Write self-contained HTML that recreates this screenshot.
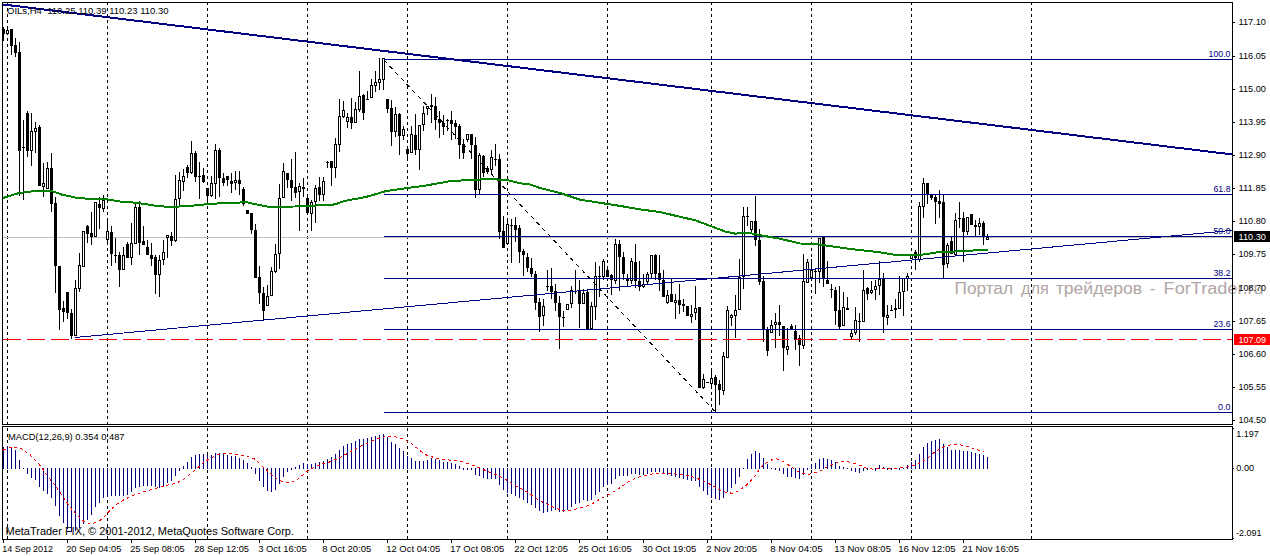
<!DOCTYPE html><html><head><meta charset="utf-8"><title>OILs H4</title>
<style>html,body{margin:0;padding:0;background:#fff}body{width:1270px;height:556px;overflow:hidden}svg{display:block}text{font-family:"Liberation Sans",sans-serif}</style></head><body>
<svg width="1270" height="556" viewBox="0 0 1270 556">
<rect x="0" y="0" width="1270" height="556" fill="#ffffff"/>
<defs><clipPath id="cm"><rect x="3" y="3" width="1229" height="421"/></clipPath><clipPath id="cs"><rect x="3" y="427" width="1229" height="112"/></clipPath></defs>
<text x="954.5" y="294.2" font-size="16.2" fill="#b0a5a3" textLength="58.5" lengthAdjust="spacingAndGlyphs">Портал</text>
<text x="1021" y="294.2" font-size="16.2" fill="#b0a5a3" textLength="27.7" lengthAdjust="spacingAndGlyphs">для</text>
<text x="1055.8" y="294.2" font-size="16.2" fill="#b0a5a3" textLength="86.2" lengthAdjust="spacingAndGlyphs">трейдеров</text>
<text x="1150" y="294.2" font-size="16.2" fill="#b0a5a3" textLength="5.2" lengthAdjust="spacingAndGlyphs">-</text>
<text x="1163.6" y="294.2" font-size="16.2" fill="#b0a5a3" textLength="100" lengthAdjust="spacingAndGlyphs">ForTrader.ru</text>
<g shape-rendering="crispEdges">
<line x1="7.5" y1="2" x2="7.5" y2="539" stroke="#000" stroke-width="1" stroke-dasharray="3 3"/>
<line x1="107.5" y1="2" x2="107.5" y2="539" stroke="#000" stroke-width="1" stroke-dasharray="3 3"/>
<line x1="207.5" y1="2" x2="207.5" y2="539" stroke="#000" stroke-width="1" stroke-dasharray="3 3"/>
<line x1="307.5" y1="2" x2="307.5" y2="539" stroke="#000" stroke-width="1" stroke-dasharray="3 3"/>
<line x1="407.5" y1="2" x2="407.5" y2="539" stroke="#000" stroke-width="1" stroke-dasharray="3 3"/>
<line x1="507.5" y1="2" x2="507.5" y2="539" stroke="#000" stroke-width="1" stroke-dasharray="3 3"/>
<line x1="607.5" y1="2" x2="607.5" y2="539" stroke="#000" stroke-width="1" stroke-dasharray="3 3"/>
<line x1="711.5" y1="2" x2="711.5" y2="539" stroke="#000" stroke-width="1" stroke-dasharray="3 3"/>
<line x1="811.5" y1="2" x2="811.5" y2="539" stroke="#000" stroke-width="1" stroke-dasharray="3 3"/>
<line x1="911.5" y1="2" x2="911.5" y2="539" stroke="#000" stroke-width="1" stroke-dasharray="3 3"/>
<line x1="1031.5" y1="2" x2="1031.5" y2="539" stroke="#000" stroke-width="1" stroke-dasharray="3 3"/>
<rect x="3" y="237" width="1229" height="1" fill="#c0c0c0" />
</g>
<g shape-rendering="crispEdges" clip-path="url(#cm)">
<rect x="3" y="27" width="1" height="14" fill="#000"/>
<rect x="2" y="29" width="3" height="5" fill="#000"/>
<rect x="7" y="27" width="1" height="8" fill="#000"/>
<rect x="6" y="30" width="3" height="4" fill="#000"/>
<rect x="7" y="31" width="1" height="2" fill="#fff"/>
<rect x="11" y="29" width="1" height="26" fill="#000"/>
<rect x="10" y="29" width="3" height="17" fill="#000"/>
<rect x="15" y="38" width="1" height="19" fill="#000"/>
<rect x="14" y="45" width="3" height="8" fill="#000"/>
<rect x="19" y="42" width="1" height="154" fill="#000"/>
<rect x="18" y="52" width="3" height="99" fill="#000"/>
<rect x="23" y="120" width="1" height="80" fill="#000"/>
<rect x="22" y="147" width="3" height="1" fill="#000"/>
<rect x="27" y="111" width="1" height="46" fill="#000"/>
<rect x="26" y="113" width="3" height="38" fill="#000"/>
<rect x="31" y="113" width="1" height="53" fill="#000"/>
<rect x="30" y="131" width="3" height="20" fill="#000"/>
<rect x="31" y="132" width="1" height="18" fill="#fff"/>
<rect x="35" y="122" width="1" height="31" fill="#000"/>
<rect x="34" y="128" width="3" height="4" fill="#000"/>
<rect x="35" y="129" width="1" height="2" fill="#fff"/>
<rect x="39" y="125" width="1" height="61" fill="#000"/>
<rect x="38" y="127" width="3" height="59" fill="#000"/>
<rect x="43" y="163" width="1" height="34" fill="#000"/>
<rect x="42" y="183" width="3" height="4" fill="#000"/>
<rect x="43" y="184" width="1" height="2" fill="#fff"/>
<rect x="47" y="162" width="1" height="27" fill="#000"/>
<rect x="46" y="168" width="3" height="21" fill="#000"/>
<rect x="47" y="169" width="1" height="19" fill="#fff"/>
<rect x="51" y="153" width="1" height="59" fill="#000"/>
<rect x="50" y="168" width="3" height="36" fill="#000"/>
<rect x="55" y="197" width="1" height="96" fill="#000"/>
<rect x="54" y="203" width="3" height="63" fill="#000"/>
<rect x="59" y="266" width="1" height="64" fill="#000"/>
<rect x="58" y="266" width="3" height="44" fill="#000"/>
<rect x="63" y="301" width="1" height="21" fill="#000"/>
<rect x="62" y="308" width="3" height="4" fill="#000"/>
<rect x="67" y="292" width="1" height="27" fill="#000"/>
<rect x="66" y="292" width="3" height="21" fill="#000"/>
<rect x="71" y="309" width="1" height="30" fill="#000"/>
<rect x="70" y="313" width="3" height="23" fill="#000"/>
<rect x="75" y="280" width="1" height="56" fill="#000"/>
<rect x="74" y="288" width="3" height="48" fill="#000"/>
<rect x="75" y="289" width="1" height="46" fill="#fff"/>
<rect x="79" y="253" width="1" height="39" fill="#000"/>
<rect x="78" y="265" width="3" height="24" fill="#000"/>
<rect x="79" y="266" width="1" height="22" fill="#fff"/>
<rect x="83" y="231" width="1" height="36" fill="#000"/>
<rect x="82" y="231" width="3" height="36" fill="#000"/>
<rect x="83" y="232" width="1" height="34" fill="#fff"/>
<rect x="87" y="225" width="1" height="18" fill="#000"/>
<rect x="86" y="226" width="3" height="8" fill="#000"/>
<rect x="91" y="212" width="1" height="33" fill="#000"/>
<rect x="90" y="233" width="3" height="4" fill="#000"/>
<rect x="95" y="202" width="1" height="35" fill="#000"/>
<rect x="94" y="202" width="3" height="35" fill="#000"/>
<rect x="95" y="203" width="1" height="33" fill="#fff"/>
<rect x="99" y="197" width="1" height="32" fill="#000"/>
<rect x="98" y="204" width="3" height="4" fill="#000"/>
<rect x="103" y="195" width="1" height="17" fill="#000"/>
<rect x="102" y="200" width="3" height="9" fill="#000"/>
<rect x="103" y="201" width="1" height="7" fill="#fff"/>
<rect x="107" y="219" width="1" height="26" fill="#000"/>
<rect x="106" y="231" width="3" height="9" fill="#000"/>
<rect x="107" y="232" width="1" height="7" fill="#fff"/>
<rect x="111" y="226" width="1" height="40" fill="#000"/>
<rect x="110" y="232" width="3" height="22" fill="#000"/>
<rect x="115" y="238" width="1" height="25" fill="#000"/>
<rect x="114" y="255" width="3" height="1" fill="#000"/>
<rect x="119" y="252" width="1" height="35" fill="#000"/>
<rect x="118" y="255" width="3" height="15" fill="#000"/>
<rect x="123" y="247" width="1" height="23" fill="#000"/>
<rect x="122" y="255" width="3" height="15" fill="#000"/>
<rect x="123" y="256" width="1" height="13" fill="#fff"/>
<rect x="127" y="242" width="1" height="16" fill="#000"/>
<rect x="126" y="244" width="3" height="14" fill="#000"/>
<rect x="131" y="223" width="1" height="42" fill="#000"/>
<rect x="130" y="243" width="3" height="15" fill="#000"/>
<rect x="131" y="244" width="1" height="13" fill="#fff"/>
<rect x="135" y="204" width="1" height="40" fill="#000"/>
<rect x="134" y="207" width="3" height="37" fill="#000"/>
<rect x="135" y="208" width="1" height="35" fill="#fff"/>
<rect x="139" y="201" width="1" height="54" fill="#000"/>
<rect x="138" y="207" width="3" height="36" fill="#000"/>
<rect x="143" y="226" width="1" height="19" fill="#000"/>
<rect x="142" y="241" width="3" height="4" fill="#000"/>
<rect x="147" y="240" width="1" height="15" fill="#000"/>
<rect x="146" y="247" width="3" height="8" fill="#000"/>
<rect x="151" y="243" width="1" height="23" fill="#000"/>
<rect x="150" y="255" width="3" height="4" fill="#000"/>
<rect x="155" y="255" width="1" height="39" fill="#000"/>
<rect x="154" y="257" width="3" height="18" fill="#000"/>
<rect x="159" y="255" width="1" height="42" fill="#000"/>
<rect x="158" y="260" width="3" height="15" fill="#000"/>
<rect x="159" y="261" width="1" height="13" fill="#fff"/>
<rect x="163" y="240" width="1" height="25" fill="#000"/>
<rect x="162" y="252" width="3" height="8" fill="#000"/>
<rect x="163" y="253" width="1" height="6" fill="#fff"/>
<rect x="167" y="235" width="1" height="23" fill="#000"/>
<rect x="166" y="235" width="3" height="3" fill="#000"/>
<rect x="167" y="236" width="1" height="1" fill="#fff"/>
<rect x="171" y="232" width="1" height="14" fill="#000"/>
<rect x="170" y="236" width="3" height="5" fill="#000"/>
<rect x="175" y="175" width="1" height="67" fill="#000"/>
<rect x="174" y="199" width="3" height="42" fill="#000"/>
<rect x="175" y="200" width="1" height="40" fill="#fff"/>
<rect x="179" y="172" width="1" height="34" fill="#000"/>
<rect x="178" y="180" width="3" height="19" fill="#000"/>
<rect x="179" y="181" width="1" height="17" fill="#fff"/>
<rect x="183" y="169" width="1" height="22" fill="#000"/>
<rect x="182" y="176" width="3" height="6" fill="#000"/>
<rect x="183" y="177" width="1" height="4" fill="#fff"/>
<rect x="187" y="165" width="1" height="13" fill="#000"/>
<rect x="186" y="167" width="3" height="6" fill="#000"/>
<rect x="191" y="141" width="1" height="33" fill="#000"/>
<rect x="190" y="153" width="3" height="20" fill="#000"/>
<rect x="191" y="154" width="1" height="18" fill="#fff"/>
<rect x="195" y="151" width="1" height="31" fill="#000"/>
<rect x="194" y="153" width="3" height="24" fill="#000"/>
<rect x="199" y="162" width="1" height="37" fill="#000"/>
<rect x="198" y="176" width="3" height="1" fill="#000"/>
<rect x="203" y="168" width="1" height="15" fill="#000"/>
<rect x="202" y="175" width="3" height="7" fill="#000"/>
<rect x="207" y="188" width="1" height="15" fill="#000"/>
<rect x="206" y="188" width="3" height="8" fill="#000"/>
<rect x="211" y="176" width="1" height="21" fill="#000"/>
<rect x="210" y="183" width="3" height="13" fill="#000"/>
<rect x="211" y="184" width="1" height="11" fill="#fff"/>
<rect x="215" y="144" width="1" height="55" fill="#000"/>
<rect x="214" y="150" width="3" height="34" fill="#000"/>
<rect x="215" y="151" width="1" height="32" fill="#fff"/>
<rect x="219" y="148" width="1" height="49" fill="#000"/>
<rect x="218" y="150" width="3" height="28" fill="#000"/>
<rect x="223" y="173" width="1" height="13" fill="#000"/>
<rect x="222" y="178" width="3" height="5" fill="#000"/>
<rect x="227" y="176" width="1" height="10" fill="#000"/>
<rect x="226" y="176" width="3" height="4" fill="#000"/>
<rect x="231" y="173" width="1" height="20" fill="#000"/>
<rect x="230" y="181" width="3" height="3" fill="#000"/>
<rect x="235" y="171" width="1" height="19" fill="#000"/>
<rect x="234" y="180" width="3" height="3" fill="#000"/>
<rect x="235" y="181" width="1" height="1" fill="#fff"/>
<rect x="239" y="171" width="1" height="24" fill="#000"/>
<rect x="238" y="180" width="3" height="4" fill="#000"/>
<rect x="243" y="187" width="1" height="19" fill="#000"/>
<rect x="242" y="189" width="3" height="15" fill="#000"/>
<rect x="247" y="210" width="1" height="4" fill="#000"/>
<rect x="246" y="210" width="3" height="4" fill="#000"/>
<rect x="251" y="213" width="1" height="21" fill="#000"/>
<rect x="250" y="213" width="3" height="17" fill="#000"/>
<rect x="255" y="224" width="1" height="54" fill="#000"/>
<rect x="254" y="230" width="3" height="48" fill="#000"/>
<rect x="259" y="266" width="1" height="38" fill="#000"/>
<rect x="258" y="277" width="3" height="16" fill="#000"/>
<rect x="263" y="287" width="1" height="34" fill="#000"/>
<rect x="262" y="293" width="3" height="18" fill="#000"/>
<rect x="267" y="285" width="1" height="21" fill="#000"/>
<rect x="266" y="296" width="3" height="10" fill="#000"/>
<rect x="267" y="297" width="1" height="8" fill="#fff"/>
<rect x="271" y="267" width="1" height="29" fill="#000"/>
<rect x="270" y="271" width="3" height="25" fill="#000"/>
<rect x="271" y="272" width="1" height="23" fill="#fff"/>
<rect x="275" y="244" width="1" height="29" fill="#000"/>
<rect x="274" y="254" width="3" height="18" fill="#000"/>
<rect x="275" y="255" width="1" height="16" fill="#fff"/>
<rect x="279" y="184" width="1" height="85" fill="#000"/>
<rect x="278" y="198" width="3" height="56" fill="#000"/>
<rect x="279" y="199" width="1" height="54" fill="#fff"/>
<rect x="283" y="163" width="1" height="35" fill="#000"/>
<rect x="282" y="171" width="3" height="27" fill="#000"/>
<rect x="283" y="172" width="1" height="25" fill="#fff"/>
<rect x="287" y="173" width="1" height="15" fill="#000"/>
<rect x="286" y="173" width="3" height="7" fill="#000"/>
<rect x="291" y="159" width="1" height="42" fill="#000"/>
<rect x="290" y="180" width="3" height="8" fill="#000"/>
<rect x="295" y="152" width="1" height="46" fill="#000"/>
<rect x="294" y="187" width="3" height="6" fill="#000"/>
<rect x="299" y="183" width="1" height="48" fill="#000"/>
<rect x="298" y="186" width="3" height="6" fill="#000"/>
<rect x="299" y="187" width="1" height="4" fill="#fff"/>
<rect x="303" y="178" width="1" height="19" fill="#000"/>
<rect x="302" y="187" width="3" height="2" fill="#000"/>
<rect x="307" y="194" width="1" height="21" fill="#000"/>
<rect x="306" y="198" width="3" height="15" fill="#000"/>
<rect x="311" y="200" width="1" height="31" fill="#000"/>
<rect x="310" y="202" width="3" height="12" fill="#000"/>
<rect x="311" y="203" width="1" height="10" fill="#fff"/>
<rect x="315" y="185" width="1" height="38" fill="#000"/>
<rect x="314" y="188" width="3" height="14" fill="#000"/>
<rect x="315" y="189" width="1" height="12" fill="#fff"/>
<rect x="319" y="177" width="1" height="24" fill="#000"/>
<rect x="318" y="187" width="3" height="8" fill="#000"/>
<rect x="323" y="177" width="1" height="24" fill="#000"/>
<rect x="322" y="181" width="3" height="14" fill="#000"/>
<rect x="323" y="182" width="1" height="12" fill="#fff"/>
<rect x="327" y="161" width="1" height="7" fill="#000"/>
<rect x="326" y="162" width="3" height="1" fill="#000"/>
<rect x="331" y="161" width="1" height="25" fill="#000"/>
<rect x="330" y="161" width="3" height="7" fill="#000"/>
<rect x="335" y="138" width="1" height="40" fill="#000"/>
<rect x="334" y="144" width="3" height="24" fill="#000"/>
<rect x="335" y="145" width="1" height="22" fill="#fff"/>
<rect x="339" y="99" width="1" height="53" fill="#000"/>
<rect x="338" y="116" width="3" height="29" fill="#000"/>
<rect x="339" y="117" width="1" height="27" fill="#fff"/>
<rect x="343" y="101" width="1" height="17" fill="#000"/>
<rect x="342" y="110" width="3" height="7" fill="#000"/>
<rect x="343" y="111" width="1" height="5" fill="#fff"/>
<rect x="347" y="113" width="1" height="15" fill="#000"/>
<rect x="346" y="117" width="3" height="5" fill="#000"/>
<rect x="347" y="118" width="1" height="3" fill="#fff"/>
<rect x="351" y="98" width="1" height="31" fill="#000"/>
<rect x="350" y="117" width="3" height="6" fill="#000"/>
<rect x="355" y="102" width="1" height="21" fill="#000"/>
<rect x="354" y="109" width="3" height="14" fill="#000"/>
<rect x="355" y="110" width="1" height="12" fill="#fff"/>
<rect x="359" y="71" width="1" height="41" fill="#000"/>
<rect x="358" y="96" width="3" height="14" fill="#000"/>
<rect x="359" y="97" width="1" height="12" fill="#fff"/>
<rect x="363" y="94" width="1" height="26" fill="#000"/>
<rect x="362" y="95" width="3" height="18" fill="#000"/>
<rect x="367" y="91" width="1" height="9" fill="#000"/>
<rect x="366" y="99" width="3" height="1" fill="#000"/>
<rect x="371" y="79" width="1" height="19" fill="#000"/>
<rect x="370" y="85" width="3" height="13" fill="#000"/>
<rect x="371" y="86" width="1" height="11" fill="#fff"/>
<rect x="375" y="71" width="1" height="21" fill="#000"/>
<rect x="374" y="82" width="3" height="4" fill="#000"/>
<rect x="375" y="83" width="1" height="2" fill="#fff"/>
<rect x="379" y="58" width="1" height="32" fill="#000"/>
<rect x="378" y="79" width="3" height="4" fill="#000"/>
<rect x="379" y="80" width="1" height="2" fill="#fff"/>
<rect x="383" y="58" width="1" height="32" fill="#000"/>
<rect x="382" y="58" width="3" height="22" fill="#000"/>
<rect x="383" y="59" width="1" height="20" fill="#fff"/>
<rect x="387" y="99" width="1" height="14" fill="#000"/>
<rect x="386" y="99" width="3" height="10" fill="#000"/>
<rect x="391" y="100" width="1" height="46" fill="#000"/>
<rect x="390" y="108" width="3" height="24" fill="#000"/>
<rect x="395" y="107" width="1" height="30" fill="#000"/>
<rect x="394" y="114" width="3" height="18" fill="#000"/>
<rect x="395" y="115" width="1" height="16" fill="#fff"/>
<rect x="399" y="113" width="1" height="42" fill="#000"/>
<rect x="398" y="114" width="3" height="22" fill="#000"/>
<rect x="403" y="126" width="1" height="14" fill="#000"/>
<rect x="402" y="129" width="3" height="7" fill="#000"/>
<rect x="403" y="130" width="1" height="5" fill="#fff"/>
<rect x="407" y="149" width="1" height="11" fill="#000"/>
<rect x="406" y="149" width="3" height="5" fill="#000"/>
<rect x="411" y="126" width="1" height="27" fill="#000"/>
<rect x="410" y="134" width="3" height="19" fill="#000"/>
<rect x="411" y="135" width="1" height="17" fill="#fff"/>
<rect x="415" y="114" width="1" height="41" fill="#000"/>
<rect x="414" y="135" width="3" height="15" fill="#000"/>
<rect x="419" y="125" width="1" height="45" fill="#000"/>
<rect x="418" y="125" width="3" height="25" fill="#000"/>
<rect x="419" y="126" width="1" height="23" fill="#fff"/>
<rect x="423" y="106" width="1" height="25" fill="#000"/>
<rect x="422" y="113" width="3" height="12" fill="#000"/>
<rect x="423" y="114" width="1" height="10" fill="#fff"/>
<rect x="427" y="106" width="1" height="9" fill="#000"/>
<rect x="426" y="106" width="3" height="3" fill="#000"/>
<rect x="427" y="107" width="1" height="1" fill="#fff"/>
<rect x="431" y="94" width="1" height="29" fill="#000"/>
<rect x="430" y="105" width="3" height="2" fill="#000"/>
<rect x="435" y="97" width="1" height="33" fill="#000"/>
<rect x="434" y="106" width="3" height="14" fill="#000"/>
<rect x="439" y="111" width="1" height="27" fill="#000"/>
<rect x="438" y="119" width="3" height="4" fill="#000"/>
<rect x="443" y="115" width="1" height="20" fill="#000"/>
<rect x="442" y="123" width="3" height="4" fill="#000"/>
<rect x="447" y="119" width="1" height="12" fill="#000"/>
<rect x="446" y="120" width="3" height="1" fill="#000"/>
<rect x="451" y="111" width="1" height="29" fill="#000"/>
<rect x="450" y="120" width="3" height="4" fill="#000"/>
<rect x="455" y="120" width="1" height="19" fill="#000"/>
<rect x="454" y="123" width="3" height="4" fill="#000"/>
<rect x="459" y="124" width="1" height="35" fill="#000"/>
<rect x="458" y="126" width="3" height="19" fill="#000"/>
<rect x="463" y="139" width="1" height="20" fill="#000"/>
<rect x="462" y="144" width="3" height="9" fill="#000"/>
<rect x="467" y="134" width="1" height="8" fill="#000"/>
<rect x="466" y="134" width="3" height="6" fill="#000"/>
<rect x="467" y="135" width="1" height="4" fill="#fff"/>
<rect x="471" y="134" width="1" height="25" fill="#000"/>
<rect x="470" y="134" width="3" height="11" fill="#000"/>
<rect x="475" y="137" width="1" height="61" fill="#000"/>
<rect x="474" y="145" width="3" height="45" fill="#000"/>
<rect x="479" y="153" width="1" height="42" fill="#000"/>
<rect x="478" y="155" width="3" height="35" fill="#000"/>
<rect x="479" y="156" width="1" height="33" fill="#fff"/>
<rect x="483" y="155" width="1" height="22" fill="#000"/>
<rect x="482" y="156" width="3" height="17" fill="#000"/>
<rect x="487" y="166" width="1" height="8" fill="#000"/>
<rect x="486" y="168" width="3" height="4" fill="#000"/>
<rect x="487" y="169" width="1" height="2" fill="#fff"/>
<rect x="491" y="150" width="1" height="25" fill="#000"/>
<rect x="490" y="157" width="3" height="13" fill="#000"/>
<rect x="491" y="158" width="1" height="11" fill="#fff"/>
<rect x="495" y="144" width="1" height="22" fill="#000"/>
<rect x="494" y="159" width="3" height="1" fill="#000"/>
<rect x="499" y="154" width="1" height="85" fill="#000"/>
<rect x="498" y="159" width="3" height="73" fill="#000"/>
<rect x="503" y="216" width="1" height="32" fill="#000"/>
<rect x="502" y="231" width="3" height="17" fill="#000"/>
<rect x="507" y="218" width="1" height="26" fill="#000"/>
<rect x="506" y="224" width="3" height="20" fill="#000"/>
<rect x="507" y="225" width="1" height="18" fill="#fff"/>
<rect x="511" y="219" width="1" height="44" fill="#000"/>
<rect x="510" y="225" width="3" height="1" fill="#000"/>
<rect x="515" y="217" width="1" height="25" fill="#000"/>
<rect x="514" y="225" width="3" height="5" fill="#000"/>
<rect x="519" y="225" width="1" height="38" fill="#000"/>
<rect x="518" y="228" width="3" height="24" fill="#000"/>
<rect x="523" y="249" width="1" height="27" fill="#000"/>
<rect x="522" y="251" width="3" height="4" fill="#000"/>
<rect x="527" y="253" width="1" height="19" fill="#000"/>
<rect x="526" y="257" width="3" height="11" fill="#000"/>
<rect x="531" y="258" width="1" height="19" fill="#000"/>
<rect x="530" y="268" width="3" height="6" fill="#000"/>
<rect x="535" y="271" width="1" height="39" fill="#000"/>
<rect x="534" y="274" width="3" height="29" fill="#000"/>
<rect x="539" y="298" width="1" height="34" fill="#000"/>
<rect x="538" y="302" width="3" height="15" fill="#000"/>
<rect x="543" y="299" width="1" height="27" fill="#000"/>
<rect x="542" y="306" width="3" height="10" fill="#000"/>
<rect x="543" y="307" width="1" height="8" fill="#fff"/>
<rect x="547" y="270" width="1" height="21" fill="#000"/>
<rect x="546" y="286" width="3" height="1" fill="#000"/>
<rect x="551" y="268" width="1" height="31" fill="#000"/>
<rect x="550" y="286" width="3" height="6" fill="#000"/>
<rect x="555" y="284" width="1" height="27" fill="#000"/>
<rect x="554" y="291" width="3" height="12" fill="#000"/>
<rect x="559" y="296" width="1" height="53" fill="#000"/>
<rect x="558" y="303" width="3" height="14" fill="#000"/>
<rect x="563" y="311" width="1" height="16" fill="#000"/>
<rect x="562" y="317" width="3" height="1" fill="#000"/>
<rect x="567" y="304" width="1" height="6" fill="#000"/>
<rect x="566" y="304" width="3" height="6" fill="#000"/>
<rect x="567" y="305" width="1" height="4" fill="#fff"/>
<rect x="571" y="286" width="1" height="22" fill="#000"/>
<rect x="570" y="290" width="3" height="14" fill="#000"/>
<rect x="571" y="291" width="1" height="12" fill="#fff"/>
<rect x="575" y="270" width="1" height="24" fill="#000"/>
<rect x="574" y="291" width="3" height="1" fill="#000"/>
<rect x="579" y="280" width="1" height="48" fill="#000"/>
<rect x="578" y="290" width="3" height="14" fill="#000"/>
<rect x="583" y="289" width="1" height="15" fill="#000"/>
<rect x="582" y="293" width="3" height="11" fill="#000"/>
<rect x="583" y="294" width="1" height="9" fill="#fff"/>
<rect x="587" y="289" width="1" height="40" fill="#000"/>
<rect x="586" y="292" width="3" height="37" fill="#000"/>
<rect x="591" y="302" width="1" height="27" fill="#000"/>
<rect x="590" y="306" width="3" height="23" fill="#000"/>
<rect x="591" y="307" width="1" height="21" fill="#fff"/>
<rect x="595" y="262" width="1" height="58" fill="#000"/>
<rect x="594" y="276" width="3" height="31" fill="#000"/>
<rect x="595" y="277" width="1" height="29" fill="#fff"/>
<rect x="599" y="266" width="1" height="31" fill="#000"/>
<rect x="598" y="276" width="3" height="1" fill="#000"/>
<rect x="603" y="259" width="1" height="21" fill="#000"/>
<rect x="602" y="261" width="3" height="16" fill="#000"/>
<rect x="603" y="262" width="1" height="14" fill="#fff"/>
<rect x="607" y="266" width="1" height="11" fill="#000"/>
<rect x="606" y="270" width="3" height="7" fill="#000"/>
<rect x="611" y="274" width="1" height="21" fill="#000"/>
<rect x="610" y="275" width="3" height="5" fill="#000"/>
<rect x="615" y="239" width="1" height="45" fill="#000"/>
<rect x="614" y="244" width="3" height="37" fill="#000"/>
<rect x="615" y="245" width="1" height="35" fill="#fff"/>
<rect x="619" y="240" width="1" height="51" fill="#000"/>
<rect x="618" y="244" width="3" height="13" fill="#000"/>
<rect x="623" y="252" width="1" height="28" fill="#000"/>
<rect x="622" y="257" width="3" height="17" fill="#000"/>
<rect x="627" y="274" width="1" height="12" fill="#000"/>
<rect x="626" y="278" width="3" height="3" fill="#000"/>
<rect x="631" y="258" width="1" height="26" fill="#000"/>
<rect x="630" y="261" width="3" height="20" fill="#000"/>
<rect x="631" y="262" width="1" height="18" fill="#fff"/>
<rect x="635" y="244" width="1" height="44" fill="#000"/>
<rect x="634" y="262" width="3" height="19" fill="#000"/>
<rect x="639" y="261" width="1" height="30" fill="#000"/>
<rect x="638" y="281" width="3" height="6" fill="#000"/>
<rect x="643" y="274" width="1" height="14" fill="#000"/>
<rect x="642" y="284" width="3" height="3" fill="#000"/>
<rect x="643" y="285" width="1" height="1" fill="#fff"/>
<rect x="647" y="272" width="1" height="13" fill="#000"/>
<rect x="646" y="274" width="3" height="8" fill="#000"/>
<rect x="647" y="275" width="1" height="6" fill="#fff"/>
<rect x="651" y="255" width="1" height="23" fill="#000"/>
<rect x="650" y="255" width="3" height="19" fill="#000"/>
<rect x="651" y="256" width="1" height="17" fill="#fff"/>
<rect x="655" y="254" width="1" height="26" fill="#000"/>
<rect x="654" y="255" width="3" height="19" fill="#000"/>
<rect x="659" y="255" width="1" height="36" fill="#000"/>
<rect x="658" y="273" width="3" height="7" fill="#000"/>
<rect x="663" y="270" width="1" height="27" fill="#000"/>
<rect x="662" y="280" width="3" height="17" fill="#000"/>
<rect x="667" y="290" width="1" height="14" fill="#000"/>
<rect x="666" y="295" width="3" height="8" fill="#000"/>
<rect x="667" y="296" width="1" height="6" fill="#fff"/>
<rect x="671" y="279" width="1" height="23" fill="#000"/>
<rect x="670" y="294" width="3" height="8" fill="#000"/>
<rect x="675" y="294" width="1" height="25" fill="#000"/>
<rect x="674" y="300" width="3" height="3" fill="#000"/>
<rect x="675" y="301" width="1" height="1" fill="#fff"/>
<rect x="679" y="284" width="1" height="30" fill="#000"/>
<rect x="678" y="300" width="3" height="5" fill="#000"/>
<rect x="683" y="299" width="1" height="13" fill="#000"/>
<rect x="682" y="304" width="3" height="2" fill="#000"/>
<rect x="687" y="306" width="1" height="10" fill="#000"/>
<rect x="686" y="306" width="3" height="10" fill="#000"/>
<rect x="691" y="305" width="1" height="18" fill="#000"/>
<rect x="690" y="314" width="3" height="3" fill="#000"/>
<rect x="691" y="315" width="1" height="1" fill="#fff"/>
<rect x="695" y="286" width="1" height="34" fill="#000"/>
<rect x="694" y="308" width="3" height="5" fill="#000"/>
<rect x="695" y="309" width="1" height="3" fill="#fff"/>
<rect x="699" y="307" width="1" height="81" fill="#000"/>
<rect x="698" y="307" width="3" height="81" fill="#000"/>
<rect x="703" y="374" width="1" height="15" fill="#000"/>
<rect x="702" y="379" width="3" height="9" fill="#000"/>
<rect x="703" y="380" width="1" height="7" fill="#fff"/>
<rect x="706" y="382" width="3" height="1" fill="#000"/>
<rect x="711" y="368" width="1" height="20" fill="#000"/>
<rect x="710" y="378" width="3" height="6" fill="#000"/>
<rect x="711" y="379" width="1" height="4" fill="#fff"/>
<rect x="715" y="375" width="1" height="37" fill="#000"/>
<rect x="714" y="377" width="3" height="8" fill="#000"/>
<rect x="719" y="380" width="1" height="25" fill="#000"/>
<rect x="718" y="384" width="3" height="6" fill="#000"/>
<rect x="723" y="352" width="1" height="43" fill="#000"/>
<rect x="722" y="356" width="3" height="35" fill="#000"/>
<rect x="723" y="357" width="1" height="33" fill="#fff"/>
<rect x="727" y="306" width="1" height="52" fill="#000"/>
<rect x="726" y="310" width="3" height="48" fill="#000"/>
<rect x="727" y="311" width="1" height="46" fill="#fff"/>
<rect x="731" y="314" width="1" height="12" fill="#000"/>
<rect x="730" y="315" width="3" height="3" fill="#000"/>
<rect x="731" y="316" width="1" height="1" fill="#fff"/>
<rect x="735" y="295" width="1" height="43" fill="#000"/>
<rect x="734" y="310" width="3" height="6" fill="#000"/>
<rect x="735" y="311" width="1" height="4" fill="#fff"/>
<rect x="739" y="259" width="1" height="51" fill="#000"/>
<rect x="738" y="277" width="3" height="33" fill="#000"/>
<rect x="739" y="278" width="1" height="31" fill="#fff"/>
<rect x="743" y="207" width="1" height="82" fill="#000"/>
<rect x="742" y="216" width="3" height="61" fill="#000"/>
<rect x="743" y="217" width="1" height="59" fill="#fff"/>
<rect x="747" y="207" width="1" height="19" fill="#000"/>
<rect x="746" y="216" width="3" height="1" fill="#000"/>
<rect x="751" y="221" width="1" height="13" fill="#000"/>
<rect x="750" y="221" width="3" height="9" fill="#000"/>
<rect x="751" y="222" width="1" height="7" fill="#fff"/>
<rect x="755" y="196" width="1" height="50" fill="#000"/>
<rect x="754" y="221" width="3" height="19" fill="#000"/>
<rect x="759" y="229" width="1" height="56" fill="#000"/>
<rect x="758" y="240" width="3" height="42" fill="#000"/>
<rect x="763" y="276" width="1" height="66" fill="#000"/>
<rect x="762" y="281" width="3" height="48" fill="#000"/>
<rect x="767" y="327" width="1" height="29" fill="#000"/>
<rect x="766" y="329" width="3" height="22" fill="#000"/>
<rect x="771" y="320" width="1" height="13" fill="#000"/>
<rect x="770" y="325" width="3" height="8" fill="#000"/>
<rect x="771" y="326" width="1" height="6" fill="#fff"/>
<rect x="775" y="313" width="1" height="35" fill="#000"/>
<rect x="774" y="322" width="3" height="3" fill="#000"/>
<rect x="775" y="323" width="1" height="1" fill="#fff"/>
<rect x="779" y="305" width="1" height="31" fill="#000"/>
<rect x="778" y="322" width="3" height="3" fill="#000"/>
<rect x="783" y="326" width="1" height="45" fill="#000"/>
<rect x="782" y="326" width="3" height="22" fill="#000"/>
<rect x="787" y="328" width="1" height="27" fill="#000"/>
<rect x="786" y="346" width="3" height="4" fill="#000"/>
<rect x="787" y="347" width="1" height="2" fill="#fff"/>
<rect x="791" y="324" width="1" height="6" fill="#000"/>
<rect x="790" y="326" width="3" height="4" fill="#000"/>
<rect x="795" y="325" width="1" height="25" fill="#000"/>
<rect x="794" y="331" width="3" height="9" fill="#000"/>
<rect x="799" y="335" width="1" height="31" fill="#000"/>
<rect x="798" y="338" width="3" height="7" fill="#000"/>
<rect x="803" y="254" width="1" height="95" fill="#000"/>
<rect x="802" y="281" width="3" height="65" fill="#000"/>
<rect x="803" y="282" width="1" height="63" fill="#fff"/>
<rect x="807" y="259" width="1" height="24" fill="#000"/>
<rect x="806" y="262" width="3" height="21" fill="#000"/>
<rect x="807" y="263" width="1" height="19" fill="#fff"/>
<rect x="811" y="259" width="1" height="19" fill="#000"/>
<rect x="810" y="270" width="3" height="8" fill="#000"/>
<rect x="811" y="271" width="1" height="6" fill="#fff"/>
<rect x="815" y="269" width="1" height="25" fill="#000"/>
<rect x="814" y="271" width="3" height="1" fill="#000"/>
<rect x="819" y="238" width="1" height="45" fill="#000"/>
<rect x="818" y="238" width="3" height="34" fill="#000"/>
<rect x="819" y="239" width="1" height="32" fill="#fff"/>
<rect x="823" y="236" width="1" height="51" fill="#000"/>
<rect x="822" y="236" width="3" height="43" fill="#000"/>
<rect x="827" y="261" width="1" height="23" fill="#000"/>
<rect x="826" y="280" width="3" height="4" fill="#000"/>
<rect x="831" y="284" width="1" height="14" fill="#000"/>
<rect x="830" y="289" width="3" height="1" fill="#000"/>
<rect x="835" y="287" width="1" height="38" fill="#000"/>
<rect x="834" y="290" width="3" height="21" fill="#000"/>
<rect x="839" y="286" width="1" height="43" fill="#000"/>
<rect x="838" y="310" width="3" height="17" fill="#000"/>
<rect x="843" y="292" width="1" height="34" fill="#000"/>
<rect x="842" y="307" width="3" height="19" fill="#000"/>
<rect x="843" y="308" width="1" height="17" fill="#fff"/>
<rect x="847" y="297" width="1" height="13" fill="#000"/>
<rect x="846" y="308" width="3" height="2" fill="#000"/>
<rect x="851" y="330" width="1" height="9" fill="#000"/>
<rect x="850" y="333" width="3" height="4" fill="#000"/>
<rect x="851" y="334" width="1" height="2" fill="#fff"/>
<rect x="855" y="307" width="1" height="28" fill="#000"/>
<rect x="854" y="320" width="3" height="13" fill="#000"/>
<rect x="855" y="321" width="1" height="11" fill="#fff"/>
<rect x="859" y="313" width="1" height="29" fill="#000"/>
<rect x="858" y="321" width="3" height="1" fill="#000"/>
<rect x="863" y="270" width="1" height="52" fill="#000"/>
<rect x="862" y="290" width="3" height="32" fill="#000"/>
<rect x="863" y="291" width="1" height="30" fill="#fff"/>
<rect x="867" y="287" width="1" height="13" fill="#000"/>
<rect x="866" y="288" width="3" height="6" fill="#000"/>
<rect x="871" y="281" width="1" height="13" fill="#000"/>
<rect x="870" y="290" width="3" height="3" fill="#000"/>
<rect x="871" y="291" width="1" height="1" fill="#fff"/>
<rect x="875" y="280" width="1" height="20" fill="#000"/>
<rect x="874" y="286" width="3" height="4" fill="#000"/>
<rect x="875" y="287" width="1" height="2" fill="#fff"/>
<rect x="879" y="261" width="1" height="34" fill="#000"/>
<rect x="878" y="279" width="3" height="7" fill="#000"/>
<rect x="879" y="280" width="1" height="5" fill="#fff"/>
<rect x="883" y="273" width="1" height="60" fill="#000"/>
<rect x="882" y="279" width="3" height="38" fill="#000"/>
<rect x="887" y="305" width="1" height="20" fill="#000"/>
<rect x="886" y="315" width="3" height="3" fill="#000"/>
<rect x="887" y="316" width="1" height="1" fill="#fff"/>
<rect x="891" y="305" width="1" height="6" fill="#000"/>
<rect x="890" y="310" width="3" height="1" fill="#000"/>
<rect x="895" y="299" width="1" height="19" fill="#000"/>
<rect x="894" y="308" width="3" height="2" fill="#000"/>
<rect x="899" y="276" width="1" height="33" fill="#000"/>
<rect x="898" y="292" width="3" height="17" fill="#000"/>
<rect x="899" y="293" width="1" height="15" fill="#fff"/>
<rect x="903" y="278" width="1" height="38" fill="#000"/>
<rect x="902" y="278" width="3" height="14" fill="#000"/>
<rect x="903" y="279" width="1" height="12" fill="#fff"/>
<rect x="907" y="273" width="1" height="18" fill="#000"/>
<rect x="906" y="276" width="3" height="3" fill="#000"/>
<rect x="907" y="277" width="1" height="1" fill="#fff"/>
<rect x="911" y="254" width="1" height="5" fill="#000"/>
<rect x="910" y="254" width="3" height="5" fill="#000"/>
<rect x="911" y="255" width="1" height="3" fill="#fff"/>
<rect x="915" y="250" width="1" height="20" fill="#000"/>
<rect x="914" y="252" width="3" height="6" fill="#000"/>
<rect x="919" y="202" width="1" height="60" fill="#000"/>
<rect x="918" y="206" width="3" height="54" fill="#000"/>
<rect x="919" y="207" width="1" height="52" fill="#fff"/>
<rect x="923" y="178" width="1" height="40" fill="#000"/>
<rect x="922" y="183" width="3" height="24" fill="#000"/>
<rect x="923" y="184" width="1" height="22" fill="#fff"/>
<rect x="927" y="183" width="1" height="21" fill="#000"/>
<rect x="926" y="183" width="3" height="12" fill="#000"/>
<rect x="931" y="195" width="1" height="5" fill="#000"/>
<rect x="930" y="195" width="3" height="3" fill="#000"/>
<rect x="935" y="195" width="1" height="29" fill="#000"/>
<rect x="934" y="197" width="3" height="5" fill="#000"/>
<rect x="939" y="190" width="1" height="28" fill="#000"/>
<rect x="938" y="201" width="3" height="3" fill="#000"/>
<rect x="943" y="195" width="1" height="83" fill="#000"/>
<rect x="942" y="202" width="3" height="63" fill="#000"/>
<rect x="947" y="243" width="1" height="25" fill="#000"/>
<rect x="946" y="245" width="3" height="19" fill="#000"/>
<rect x="947" y="246" width="1" height="17" fill="#fff"/>
<rect x="951" y="237" width="1" height="17" fill="#000"/>
<rect x="950" y="241" width="3" height="13" fill="#000"/>
<rect x="955" y="213" width="1" height="43" fill="#000"/>
<rect x="954" y="220" width="3" height="35" fill="#000"/>
<rect x="955" y="221" width="1" height="33" fill="#fff"/>
<rect x="959" y="202" width="1" height="26" fill="#000"/>
<rect x="958" y="218" width="3" height="1" fill="#000"/>
<rect x="963" y="212" width="1" height="50" fill="#000"/>
<rect x="962" y="218" width="3" height="14" fill="#000"/>
<rect x="967" y="217" width="1" height="18" fill="#000"/>
<rect x="966" y="217" width="3" height="15" fill="#000"/>
<rect x="967" y="218" width="1" height="13" fill="#fff"/>
<rect x="971" y="214" width="1" height="11" fill="#000"/>
<rect x="970" y="214" width="3" height="11" fill="#000"/>
<rect x="975" y="220" width="1" height="17" fill="#000"/>
<rect x="974" y="225" width="3" height="2" fill="#000"/>
<rect x="979" y="218" width="1" height="17" fill="#000"/>
<rect x="978" y="223" width="3" height="4" fill="#000"/>
<rect x="979" y="224" width="1" height="2" fill="#fff"/>
<rect x="983" y="221" width="1" height="24" fill="#000"/>
<rect x="982" y="223" width="3" height="13" fill="#000"/>
<rect x="987" y="234" width="1" height="5" fill="#000"/>
<rect x="986" y="237" width="3" height="3" fill="#000"/>
<rect x="987" y="238" width="1" height="1" fill="#fff"/>
</g>
<g shape-rendering="crispEdges">
<rect x="384" y="59" width="848" height="1" fill="#000080" />
<rect x="384" y="194" width="848" height="1" fill="#000080" />
<rect x="384" y="236" width="848" height="1" fill="#000080" />
<rect x="384" y="278" width="848" height="1" fill="#000080" />
<rect x="384" y="329" width="848" height="1" fill="#000080" />
<rect x="384" y="412" width="848" height="1" fill="#000080" />
<line x1="3" y1="339.5" x2="1232" y2="339.5" stroke="#ff0000" stroke-width="1" stroke-dasharray="18 6"/>
</g>
<line x1="384" y1="60" x2="715.5" y2="412" stroke="#000" stroke-width="1" stroke-dasharray="4.12 4.12" clip-path="url(#cm)" shape-rendering="crispEdges"/>
<line x1="75" y1="337.5" x2="1232.5" y2="230.35" stroke="#000080" stroke-width="1" clip-path="url(#cm)" shape-rendering="crispEdges"/>
<line x1="2" y1="4.35" x2="1233" y2="154.53" stroke="#000080" stroke-width="2" clip-path="url(#cm)" shape-rendering="crispEdges"/>
<polyline points="3,198 19,193 35,191 51,190.7 63,195 70,196.1 75,197.6 90,199 99,199 107,199.4 120,201.5 127,202 138,203 155,205.6 170,207.1 188,205.9 200,205.1 207,204 227,203 240,202.5 247,202.3 255,204.2 268,206.7 295,206.5 325,205.1 335,204.4 345,200.8 365,197.2 380,192.9 385,191.3 400,189 425,185.7 450,181.2 475,179.6 495,179.2 510,180.6 520,183.3 530,184.4 540,188 560,193 580,199.7 600,202.8 620,205.9 640,209.4 660,212 680,216.8 695,220.2 710,225.8 725,231.5 735,233.6 750,233 760,235.2 780,238.7 800,243.5 815,243.9 835,246.8 850,249 860,250 880,252.3 895,254.9 915,254.9 920,255 930,253.5 940,251.8 955,251.5 970,250.6 988,250.1" fill="none" stroke="#008000" stroke-width="2" stroke-linejoin="round" clip-path="url(#cm)" shape-rendering="crispEdges"/>
<g shape-rendering="crispEdges" clip-path="url(#cs)">
<rect x="3" y="447" width="1" height="22" fill="#000080"/>
<rect x="7" y="446" width="1" height="23" fill="#000080"/>
<rect x="11" y="447" width="1" height="22" fill="#000080"/>
<rect x="15" y="450" width="1" height="19" fill="#000080"/>
<rect x="19" y="460" width="1" height="9" fill="#000080"/>
<rect x="23" y="468" width="1" height="1" fill="#000080"/>
<rect x="27" y="468" width="1" height="6" fill="#000080"/>
<rect x="31" y="468" width="1" height="10" fill="#000080"/>
<rect x="35" y="468" width="1" height="12" fill="#000080"/>
<rect x="39" y="468" width="1" height="19" fill="#000080"/>
<rect x="43" y="468" width="1" height="23" fill="#000080"/>
<rect x="47" y="468" width="1" height="26" fill="#000080"/>
<rect x="51" y="468" width="1" height="30" fill="#000080"/>
<rect x="55" y="468" width="1" height="38" fill="#000080"/>
<rect x="59" y="468" width="1" height="48" fill="#000080"/>
<rect x="63" y="468" width="1" height="55" fill="#000080"/>
<rect x="67" y="468" width="1" height="61" fill="#000080"/>
<rect x="71" y="468" width="1" height="64" fill="#000080"/>
<rect x="75" y="468" width="1" height="63" fill="#000080"/>
<rect x="79" y="468" width="1" height="60" fill="#000080"/>
<rect x="83" y="468" width="1" height="56" fill="#000080"/>
<rect x="87" y="468" width="1" height="52" fill="#000080"/>
<rect x="91" y="468" width="1" height="47" fill="#000080"/>
<rect x="95" y="468" width="1" height="39" fill="#000080"/>
<rect x="99" y="468" width="1" height="35" fill="#000080"/>
<rect x="103" y="468" width="1" height="30" fill="#000080"/>
<rect x="107" y="468" width="1" height="29" fill="#000080"/>
<rect x="111" y="468" width="1" height="28" fill="#000080"/>
<rect x="115" y="468" width="1" height="28" fill="#000080"/>
<rect x="119" y="468" width="1" height="28" fill="#000080"/>
<rect x="123" y="468" width="1" height="28" fill="#000080"/>
<rect x="127" y="468" width="1" height="27" fill="#000080"/>
<rect x="131" y="468" width="1" height="24" fill="#000080"/>
<rect x="135" y="468" width="1" height="20" fill="#000080"/>
<rect x="139" y="468" width="1" height="19" fill="#000080"/>
<rect x="143" y="468" width="1" height="18" fill="#000080"/>
<rect x="147" y="468" width="1" height="18" fill="#000080"/>
<rect x="151" y="468" width="1" height="18" fill="#000080"/>
<rect x="155" y="468" width="1" height="19" fill="#000080"/>
<rect x="159" y="468" width="1" height="20" fill="#000080"/>
<rect x="163" y="468" width="1" height="19" fill="#000080"/>
<rect x="167" y="468" width="1" height="15" fill="#000080"/>
<rect x="171" y="468" width="1" height="13" fill="#000080"/>
<rect x="175" y="468" width="1" height="8" fill="#000080"/>
<rect x="179" y="468" width="1" height="3" fill="#000080"/>
<rect x="183" y="466" width="1" height="3" fill="#000080"/>
<rect x="187" y="462" width="1" height="7" fill="#000080"/>
<rect x="191" y="457" width="1" height="12" fill="#000080"/>
<rect x="195" y="455" width="1" height="14" fill="#000080"/>
<rect x="199" y="454" width="1" height="15" fill="#000080"/>
<rect x="203" y="454" width="1" height="15" fill="#000080"/>
<rect x="207" y="455" width="1" height="14" fill="#000080"/>
<rect x="211" y="455" width="1" height="14" fill="#000080"/>
<rect x="215" y="453" width="1" height="16" fill="#000080"/>
<rect x="219" y="453" width="1" height="16" fill="#000080"/>
<rect x="223" y="454" width="1" height="15" fill="#000080"/>
<rect x="227" y="455" width="1" height="14" fill="#000080"/>
<rect x="231" y="456" width="1" height="13" fill="#000080"/>
<rect x="235" y="456" width="1" height="13" fill="#000080"/>
<rect x="239" y="458" width="1" height="11" fill="#000080"/>
<rect x="243" y="460" width="1" height="9" fill="#000080"/>
<rect x="247" y="463" width="1" height="6" fill="#000080"/>
<rect x="251" y="467" width="1" height="2" fill="#000080"/>
<rect x="255" y="468" width="1" height="6" fill="#000080"/>
<rect x="259" y="468" width="1" height="13" fill="#000080"/>
<rect x="263" y="468" width="1" height="19" fill="#000080"/>
<rect x="267" y="468" width="1" height="23" fill="#000080"/>
<rect x="271" y="468" width="1" height="24" fill="#000080"/>
<rect x="275" y="468" width="1" height="22" fill="#000080"/>
<rect x="279" y="468" width="1" height="16" fill="#000080"/>
<rect x="283" y="468" width="1" height="9" fill="#000080"/>
<rect x="287" y="468" width="1" height="4" fill="#000080"/>
<rect x="291" y="468" width="1" height="2" fill="#000080"/>
<rect x="295" y="467" width="1" height="2" fill="#000080"/>
<rect x="299" y="465" width="1" height="4" fill="#000080"/>
<rect x="303" y="463" width="1" height="6" fill="#000080"/>
<rect x="307" y="464" width="1" height="5" fill="#000080"/>
<rect x="311" y="464" width="1" height="5" fill="#000080"/>
<rect x="315" y="463" width="1" height="6" fill="#000080"/>
<rect x="319" y="462" width="1" height="7" fill="#000080"/>
<rect x="323" y="461" width="1" height="8" fill="#000080"/>
<rect x="327" y="459" width="1" height="10" fill="#000080"/>
<rect x="331" y="457" width="1" height="12" fill="#000080"/>
<rect x="335" y="454" width="1" height="15" fill="#000080"/>
<rect x="339" y="450" width="1" height="19" fill="#000080"/>
<rect x="343" y="446" width="1" height="23" fill="#000080"/>
<rect x="347" y="444" width="1" height="25" fill="#000080"/>
<rect x="351" y="443" width="1" height="26" fill="#000080"/>
<rect x="355" y="441" width="1" height="28" fill="#000080"/>
<rect x="359" y="439" width="1" height="30" fill="#000080"/>
<rect x="363" y="439" width="1" height="30" fill="#000080"/>
<rect x="367" y="438" width="1" height="31" fill="#000080"/>
<rect x="371" y="437" width="1" height="32" fill="#000080"/>
<rect x="375" y="436" width="1" height="33" fill="#000080"/>
<rect x="379" y="435" width="1" height="34" fill="#000080"/>
<rect x="383" y="434" width="1" height="35" fill="#000080"/>
<rect x="387" y="437" width="1" height="32" fill="#000080"/>
<rect x="391" y="442" width="1" height="27" fill="#000080"/>
<rect x="395" y="444" width="1" height="25" fill="#000080"/>
<rect x="399" y="448" width="1" height="21" fill="#000080"/>
<rect x="403" y="451" width="1" height="18" fill="#000080"/>
<rect x="407" y="456" width="1" height="13" fill="#000080"/>
<rect x="411" y="458" width="1" height="11" fill="#000080"/>
<rect x="415" y="461" width="1" height="8" fill="#000080"/>
<rect x="419" y="461" width="1" height="8" fill="#000080"/>
<rect x="423" y="461" width="1" height="8" fill="#000080"/>
<rect x="427" y="460" width="1" height="9" fill="#000080"/>
<rect x="431" y="458" width="1" height="11" fill="#000080"/>
<rect x="435" y="459" width="1" height="10" fill="#000080"/>
<rect x="439" y="460" width="1" height="9" fill="#000080"/>
<rect x="443" y="462" width="1" height="7" fill="#000080"/>
<rect x="447" y="462" width="1" height="7" fill="#000080"/>
<rect x="451" y="463" width="1" height="6" fill="#000080"/>
<rect x="455" y="464" width="1" height="5" fill="#000080"/>
<rect x="459" y="466" width="1" height="3" fill="#000080"/>
<rect x="463" y="468" width="1" height="2" fill="#000080"/>
<rect x="467" y="468" width="1" height="2" fill="#000080"/>
<rect x="471" y="468" width="1" height="2" fill="#000080"/>
<rect x="475" y="468" width="1" height="7" fill="#000080"/>
<rect x="479" y="468" width="1" height="8" fill="#000080"/>
<rect x="483" y="468" width="1" height="10" fill="#000080"/>
<rect x="487" y="468" width="1" height="11" fill="#000080"/>
<rect x="491" y="468" width="1" height="11" fill="#000080"/>
<rect x="495" y="468" width="1" height="11" fill="#000080"/>
<rect x="499" y="468" width="1" height="17" fill="#000080"/>
<rect x="503" y="468" width="1" height="22" fill="#000080"/>
<rect x="507" y="468" width="1" height="25" fill="#000080"/>
<rect x="511" y="468" width="1" height="26" fill="#000080"/>
<rect x="515" y="468" width="1" height="28" fill="#000080"/>
<rect x="519" y="468" width="1" height="30" fill="#000080"/>
<rect x="523" y="468" width="1" height="32" fill="#000080"/>
<rect x="527" y="468" width="1" height="35" fill="#000080"/>
<rect x="531" y="468" width="1" height="37" fill="#000080"/>
<rect x="535" y="468" width="1" height="40" fill="#000080"/>
<rect x="539" y="468" width="1" height="43" fill="#000080"/>
<rect x="543" y="468" width="1" height="45" fill="#000080"/>
<rect x="547" y="468" width="1" height="44" fill="#000080"/>
<rect x="551" y="468" width="1" height="43" fill="#000080"/>
<rect x="555" y="468" width="1" height="42" fill="#000080"/>
<rect x="559" y="468" width="1" height="44" fill="#000080"/>
<rect x="563" y="468" width="1" height="44" fill="#000080"/>
<rect x="567" y="468" width="1" height="42" fill="#000080"/>
<rect x="571" y="468" width="1" height="39" fill="#000080"/>
<rect x="575" y="468" width="1" height="36" fill="#000080"/>
<rect x="579" y="468" width="1" height="35" fill="#000080"/>
<rect x="583" y="468" width="1" height="32" fill="#000080"/>
<rect x="587" y="468" width="1" height="33" fill="#000080"/>
<rect x="591" y="468" width="1" height="32" fill="#000080"/>
<rect x="595" y="468" width="1" height="27" fill="#000080"/>
<rect x="599" y="468" width="1" height="24" fill="#000080"/>
<rect x="603" y="468" width="1" height="19" fill="#000080"/>
<rect x="607" y="468" width="1" height="17" fill="#000080"/>
<rect x="611" y="468" width="1" height="16" fill="#000080"/>
<rect x="615" y="468" width="1" height="11" fill="#000080"/>
<rect x="619" y="468" width="1" height="8" fill="#000080"/>
<rect x="623" y="468" width="1" height="8" fill="#000080"/>
<rect x="627" y="468" width="1" height="8" fill="#000080"/>
<rect x="631" y="468" width="1" height="6" fill="#000080"/>
<rect x="635" y="468" width="1" height="6" fill="#000080"/>
<rect x="639" y="468" width="1" height="7" fill="#000080"/>
<rect x="643" y="468" width="1" height="7" fill="#000080"/>
<rect x="647" y="468" width="1" height="6" fill="#000080"/>
<rect x="651" y="468" width="1" height="4" fill="#000080"/>
<rect x="655" y="468" width="1" height="4" fill="#000080"/>
<rect x="659" y="468" width="1" height="4" fill="#000080"/>
<rect x="663" y="468" width="1" height="5" fill="#000080"/>
<rect x="667" y="468" width="1" height="7" fill="#000080"/>
<rect x="671" y="468" width="1" height="8" fill="#000080"/>
<rect x="675" y="468" width="1" height="9" fill="#000080"/>
<rect x="679" y="468" width="1" height="10" fill="#000080"/>
<rect x="683" y="468" width="1" height="11" fill="#000080"/>
<rect x="687" y="468" width="1" height="12" fill="#000080"/>
<rect x="691" y="468" width="1" height="13" fill="#000080"/>
<rect x="695" y="468" width="1" height="13" fill="#000080"/>
<rect x="699" y="468" width="1" height="19" fill="#000080"/>
<rect x="703" y="468" width="1" height="23" fill="#000080"/>
<rect x="707" y="468" width="1" height="27" fill="#000080"/>
<rect x="711" y="468" width="1" height="30" fill="#000080"/>
<rect x="715" y="468" width="1" height="31" fill="#000080"/>
<rect x="719" y="468" width="1" height="32" fill="#000080"/>
<rect x="723" y="468" width="1" height="30" fill="#000080"/>
<rect x="727" y="468" width="1" height="24" fill="#000080"/>
<rect x="731" y="468" width="1" height="20" fill="#000080"/>
<rect x="735" y="468" width="1" height="16" fill="#000080"/>
<rect x="739" y="468" width="1" height="9" fill="#000080"/>
<rect x="743" y="468" width="1" height="1" fill="#000080"/>
<rect x="747" y="459" width="1" height="10" fill="#000080"/>
<rect x="751" y="454" width="1" height="15" fill="#000080"/>
<rect x="755" y="451" width="1" height="18" fill="#000080"/>
<rect x="759" y="453" width="1" height="16" fill="#000080"/>
<rect x="763" y="458" width="1" height="11" fill="#000080"/>
<rect x="767" y="464" width="1" height="5" fill="#000080"/>
<rect x="771" y="468" width="1" height="1" fill="#000080"/>
<rect x="775" y="468" width="1" height="2" fill="#000080"/>
<rect x="779" y="468" width="1" height="3" fill="#000080"/>
<rect x="783" y="468" width="1" height="6" fill="#000080"/>
<rect x="787" y="468" width="1" height="9" fill="#000080"/>
<rect x="791" y="468" width="1" height="9" fill="#000080"/>
<rect x="795" y="468" width="1" height="10" fill="#000080"/>
<rect x="799" y="468" width="1" height="11" fill="#000080"/>
<rect x="803" y="468" width="1" height="7" fill="#000080"/>
<rect x="807" y="468" width="1" height="2" fill="#000080"/>
<rect x="811" y="465" width="1" height="4" fill="#000080"/>
<rect x="815" y="463" width="1" height="6" fill="#000080"/>
<rect x="819" y="459" width="1" height="10" fill="#000080"/>
<rect x="823" y="458" width="1" height="11" fill="#000080"/>
<rect x="827" y="459" width="1" height="10" fill="#000080"/>
<rect x="831" y="460" width="1" height="9" fill="#000080"/>
<rect x="835" y="462" width="1" height="7" fill="#000080"/>
<rect x="839" y="466" width="1" height="3" fill="#000080"/>
<rect x="843" y="467" width="1" height="2" fill="#000080"/>
<rect x="847" y="468" width="1" height="1" fill="#000080"/>
<rect x="851" y="468" width="1" height="3" fill="#000080"/>
<rect x="855" y="468" width="1" height="4" fill="#000080"/>
<rect x="859" y="468" width="1" height="5" fill="#000080"/>
<rect x="863" y="468" width="1" height="3" fill="#000080"/>
<rect x="867" y="468" width="1" height="2" fill="#000080"/>
<rect x="871" y="468" width="1" height="1" fill="#000080"/>
<rect x="875" y="468" width="1" height="3" fill="#000080"/>
<rect x="879" y="465" width="1" height="4" fill="#000080"/>
<rect x="883" y="467" width="1" height="2" fill="#000080"/>
<rect x="887" y="468" width="1" height="2" fill="#000080"/>
<rect x="891" y="468" width="1" height="2" fill="#000080"/>
<rect x="895" y="468" width="1" height="1" fill="#000080"/>
<rect x="899" y="468" width="1" height="2" fill="#000080"/>
<rect x="903" y="468" width="1" height="1" fill="#000080"/>
<rect x="907" y="465" width="1" height="4" fill="#000080"/>
<rect x="911" y="462" width="1" height="7" fill="#000080"/>
<rect x="915" y="460" width="1" height="9" fill="#000080"/>
<rect x="919" y="454" width="1" height="15" fill="#000080"/>
<rect x="923" y="447" width="1" height="22" fill="#000080"/>
<rect x="927" y="443" width="1" height="26" fill="#000080"/>
<rect x="931" y="441" width="1" height="28" fill="#000080"/>
<rect x="935" y="440" width="1" height="29" fill="#000080"/>
<rect x="939" y="439" width="1" height="30" fill="#000080"/>
<rect x="943" y="444" width="1" height="25" fill="#000080"/>
<rect x="947" y="447" width="1" height="22" fill="#000080"/>
<rect x="951" y="450" width="1" height="19" fill="#000080"/>
<rect x="955" y="450" width="1" height="19" fill="#000080"/>
<rect x="959" y="450" width="1" height="19" fill="#000080"/>
<rect x="963" y="451" width="1" height="18" fill="#000080"/>
<rect x="967" y="451" width="1" height="18" fill="#000080"/>
<rect x="971" y="452" width="1" height="17" fill="#000080"/>
<rect x="975" y="453" width="1" height="16" fill="#000080"/>
<rect x="979" y="454" width="1" height="15" fill="#000080"/>
<rect x="983" y="455" width="1" height="14" fill="#000080"/>
<rect x="987" y="457" width="1" height="12" fill="#000080"/>
</g>
<polyline points="3,450.2 12,447.1 20,447.5 25,451.6 30,454.7 35,459.8 41,466.4 47,475.2 55,485.5 63,496.7 70,507 78,516.2 84,521.3 90,524 96,522.4 100,520.7 105,515.8 110,510.5 116,504.9 123,500.2 130,496.7 137,493.7 145,491.6 153,489.2 160,487.1 168,485 176,483.4 184,478.9 190,474.2 197,468.6 203,462.9 210,458.4 217,455.1 225,453.3 233,453.7 240,454.7 248,456.8 254,458.4 260,463.9 266,469.5 272,475.2 279,480.3 284,482.4 291,482.4 297,479.7 303,474.8 309,470.1 316,466.6 322,463.9 330,461.9 338,458.4 346,454.3 354,449.6 362,445.5 370,442 378,438.7 386,436.3 393,436.3 400,437.9 407,440.8 413,444.9 420,450.6 427,455.3 435,457.8 443,459.4 451,460.2 458,460.9 465,462.5 472,465 480,468 488,471.5 496,474.8 504,478.3 512,483.8 518,486.9 525,490.6 531,494.7 537,498.8 543,502.3 549,504.9 555,508 561,510 568,510.5 574,509.5 580,508 586,506.4 592,503.9 598,500.2 605,496.7 611,493.3 617,490 623,485.5 629,481.4 635,478.3 641,476.2 648,474.8 654,473.6 660,473.2 666,473.2 672,473.6 678,474.2 684,475.2 690,476.2 697,478.3 703,481 709,483.8 715,486.9 721,490.6 727,492.6 733,493.3 739,490.6 746,485.5 752,479.7 757,473.2 760,468 766,462.9 772,459.8 776,458.8 780,459.8 785,462.5 791,466.6 797,471.1 803,473.6 809,474.2 815,472.8 821,470.7 827,467 833,463.9 838,461.9 844,461.3 849,461.9 856,463.9 862,466 867,468.4 873,469.1 881,468.4 889,468.6 897,468 904,467.4 910,466.6 916,465 922,461.9 928,457.8 934,452.7 940,449 946,445.9 952,444.5 958,444.5 964,445.5 970,447.5 977,449.6 984,451.6" fill="none" stroke="#ff0000" stroke-width="1" stroke-dasharray="3 3" clip-path="url(#cs)" shape-rendering="crispEdges"/>
<g shape-rendering="crispEdges">
<rect x="2" y="2" width="1231" height="1" fill="#000" />
<rect x="2" y="2" width="1" height="423" fill="#000"/>
<rect x="2" y="424" width="1231" height="1" fill="#000" />
<rect x="1232" y="2" width="1" height="423" fill="#000"/>
<rect x="1232" y="426" width="1" height="114" fill="#000"/>
<rect x="2" y="426" width="1231" height="1" fill="#000" />
<rect x="2" y="426" width="1" height="114" fill="#000"/>
<rect x="2" y="539" width="1231" height="1" fill="#000" />
<rect x="1233" y="22" width="2" height="1" fill="#000" />
<rect x="1233" y="56" width="2" height="1" fill="#000" />
<rect x="1233" y="89" width="2" height="1" fill="#000" />
<rect x="1233" y="122" width="2" height="1" fill="#000" />
<rect x="1233" y="155" width="2" height="1" fill="#000" />
<rect x="1233" y="188" width="2" height="1" fill="#000" />
<rect x="1233" y="221" width="2" height="1" fill="#000" />
<rect x="1233" y="254" width="2" height="1" fill="#000" />
<rect x="1233" y="288" width="2" height="1" fill="#000" />
<rect x="1233" y="321" width="2" height="1" fill="#000" />
<rect x="1233" y="354" width="2" height="1" fill="#000" />
<rect x="1233" y="387" width="2" height="1" fill="#000" />
<rect x="1233" y="420" width="2" height="1" fill="#000" />
<rect x="1233" y="428" width="1" height="1" fill="#000" />
<rect x="1233" y="468" width="1" height="1" fill="#000" />
<rect x="1233" y="538" width="1" height="1" fill="#000" />
<rect x="3" y="540" width="1" height="3" fill="#000"/>
<rect x="67" y="540" width="1" height="3" fill="#000"/>
<rect x="131" y="540" width="1" height="3" fill="#000"/>
<rect x="195" y="540" width="1" height="3" fill="#000"/>
<rect x="259" y="540" width="1" height="3" fill="#000"/>
<rect x="323" y="540" width="1" height="3" fill="#000"/>
<rect x="387" y="540" width="1" height="3" fill="#000"/>
<rect x="451" y="540" width="1" height="3" fill="#000"/>
<rect x="515" y="540" width="1" height="3" fill="#000"/>
<rect x="579" y="540" width="1" height="3" fill="#000"/>
<rect x="643" y="540" width="1" height="3" fill="#000"/>
<rect x="707" y="540" width="1" height="3" fill="#000"/>
<rect x="771" y="540" width="1" height="3" fill="#000"/>
<rect x="835" y="540" width="1" height="3" fill="#000"/>
<rect x="899" y="540" width="1" height="3" fill="#000"/>
<rect x="963" y="540" width="1" height="3" fill="#000"/>
</g>
<text x="1238.5" y="25" font-size="9.7" fill="#000" textLength="27.4" lengthAdjust="spacingAndGlyphs" xml:space="preserve">117.10</text>
<text x="1238.5" y="59" font-size="9.7" fill="#000" textLength="27.4" lengthAdjust="spacingAndGlyphs" xml:space="preserve">116.05</text>
<text x="1238.5" y="92" font-size="9.7" fill="#000" textLength="27.4" lengthAdjust="spacingAndGlyphs" xml:space="preserve">115.00</text>
<text x="1238.5" y="125" font-size="9.7" fill="#000" textLength="27.4" lengthAdjust="spacingAndGlyphs" xml:space="preserve">113.95</text>
<text x="1238.5" y="158" font-size="9.7" fill="#000" textLength="27.4" lengthAdjust="spacingAndGlyphs" xml:space="preserve">112.90</text>
<text x="1238.5" y="191" font-size="9.7" fill="#000" textLength="27.4" lengthAdjust="spacingAndGlyphs" xml:space="preserve">111.85</text>
<text x="1238.5" y="224" font-size="9.7" fill="#000" textLength="27.4" lengthAdjust="spacingAndGlyphs" xml:space="preserve">110.80</text>
<text x="1238.5" y="257" font-size="9.7" fill="#000" textLength="27.4" lengthAdjust="spacingAndGlyphs" xml:space="preserve">109.75</text>
<text x="1238.5" y="291" font-size="9.7" fill="#000" textLength="27.4" lengthAdjust="spacingAndGlyphs" xml:space="preserve">108.70</text>
<text x="1238.5" y="324" font-size="9.7" fill="#000" textLength="27.4" lengthAdjust="spacingAndGlyphs" xml:space="preserve">107.65</text>
<text x="1238.5" y="357" font-size="9.7" fill="#000" textLength="27.4" lengthAdjust="spacingAndGlyphs" xml:space="preserve">106.60</text>
<text x="1238.5" y="390" font-size="9.7" fill="#000" textLength="27.4" lengthAdjust="spacingAndGlyphs" xml:space="preserve">105.55</text>
<text x="1238.5" y="423" font-size="9.7" fill="#000" textLength="27.4" lengthAdjust="spacingAndGlyphs" xml:space="preserve">104.50</text>
<rect x="1234" y="231" width="36" height="11" fill="#000" shape-rendering="crispEdges"/>
<text x="1238.5" y="240" font-size="9.7" fill="#fff" textLength="27.4" lengthAdjust="spacingAndGlyphs" xml:space="preserve">110.30</text>
<rect x="1234" y="334" width="36" height="11" fill="#ff0000" shape-rendering="crispEdges"/>
<text x="1238.5" y="343" font-size="9.7" fill="#fff" textLength="27.4" lengthAdjust="spacingAndGlyphs" xml:space="preserve">107.09</text>
<text x="1236.3" y="437" font-size="9.7" fill="#000" textLength="22.5" lengthAdjust="spacingAndGlyphs" xml:space="preserve">1.197</text>
<text x="1236.3" y="471" font-size="9.7" fill="#000" textLength="17.7" lengthAdjust="spacingAndGlyphs" xml:space="preserve">0.00</text>
<text x="1236" y="536" font-size="9.7" fill="#000" textLength="25.6" lengthAdjust="spacingAndGlyphs" xml:space="preserve">-2.091</text>
<text x="1208.5" y="57" font-size="9.7" fill="#000080" textLength="22" lengthAdjust="spacingAndGlyphs" xml:space="preserve">100.0</text>
<text x="1213.5" y="192" font-size="9.7" fill="#000080" textLength="17" lengthAdjust="spacingAndGlyphs" xml:space="preserve">61.8</text>
<text x="1213.5" y="234" font-size="9.7" fill="#000080" textLength="17" lengthAdjust="spacingAndGlyphs" xml:space="preserve">50.0</text>
<text x="1213.5" y="276" font-size="9.7" fill="#000080" textLength="17" lengthAdjust="spacingAndGlyphs" xml:space="preserve">38.2</text>
<text x="1213.5" y="327" font-size="9.7" fill="#000080" textLength="17" lengthAdjust="spacingAndGlyphs" xml:space="preserve">23.6</text>
<text x="1218.0" y="410" font-size="9.7" fill="#000080" textLength="12.5" lengthAdjust="spacingAndGlyphs" xml:space="preserve">0.0</text>
<text x="7" y="14" font-size="9.7" fill="#000" textLength="161.5" lengthAdjust="spacingAndGlyphs" xml:space="preserve">OILs,H4  110.25 110.39 110.23 110.30</text>
<text x="8" y="440" font-size="9.7" fill="#000" textLength="116.5" lengthAdjust="spacingAndGlyphs" xml:space="preserve">MACD(12,26,9) 0.354 0.487</text>
<text x="5.5" y="535" font-size="11.5" fill="#000" textLength="288.5" lengthAdjust="spacingAndGlyphs" xml:space="preserve">MetaTrader FIX, © 2001-2012, MetaQuotes Software Corp.</text>
<text x="2.2" y="552" font-size="9.7" fill="#000" textLength="50.9" lengthAdjust="spacingAndGlyphs" xml:space="preserve">14 Sep 2012</text>
<text x="66.2" y="552" font-size="9.7" fill="#000" textLength="55.2" lengthAdjust="spacingAndGlyphs" xml:space="preserve">20 Sep 04:05</text>
<text x="130.2" y="552" font-size="9.7" fill="#000" textLength="54.5" lengthAdjust="spacingAndGlyphs" xml:space="preserve">25 Sep 08:05</text>
<text x="194.2" y="552" font-size="9.7" fill="#000" textLength="54.800000000000004" lengthAdjust="spacingAndGlyphs" xml:space="preserve">28 Sep 12:05</text>
<text x="258.2" y="552" font-size="9.7" fill="#000" textLength="48.6" lengthAdjust="spacingAndGlyphs" xml:space="preserve">3 Oct 16:05</text>
<text x="322.2" y="552" font-size="9.7" fill="#000" textLength="49.2" lengthAdjust="spacingAndGlyphs" xml:space="preserve">8 Oct 20:05</text>
<text x="386.2" y="552" font-size="9.7" fill="#000" textLength="54.2" lengthAdjust="spacingAndGlyphs" xml:space="preserve">12 Oct 04:05</text>
<text x="450.2" y="552" font-size="9.7" fill="#000" textLength="54.2" lengthAdjust="spacingAndGlyphs" xml:space="preserve">17 Oct 08:05</text>
<text x="514.2" y="552" font-size="9.7" fill="#000" textLength="53.800000000000004" lengthAdjust="spacingAndGlyphs" xml:space="preserve">22 Oct 12:05</text>
<text x="578.2" y="552" font-size="9.7" fill="#000" textLength="53.5" lengthAdjust="spacingAndGlyphs" xml:space="preserve">25 Oct 16:05</text>
<text x="642.2" y="552" font-size="9.7" fill="#000" textLength="54.2" lengthAdjust="spacingAndGlyphs" xml:space="preserve">30 Oct 19:05</text>
<text x="706.2" y="552" font-size="9.7" fill="#000" textLength="50.9" lengthAdjust="spacingAndGlyphs" xml:space="preserve">2 Nov 20:05</text>
<text x="770.2" y="552" font-size="9.7" fill="#000" textLength="52.5" lengthAdjust="spacingAndGlyphs" xml:space="preserve">8 Nov 04:05</text>
<text x="834.2" y="552" font-size="9.7" fill="#000" textLength="56.800000000000004" lengthAdjust="spacingAndGlyphs" xml:space="preserve">13 Nov 08:05</text>
<text x="898.2" y="552" font-size="9.7" fill="#000" textLength="57.5" lengthAdjust="spacingAndGlyphs" xml:space="preserve">16 Nov 12:05</text>
<text x="962.2" y="552" font-size="9.7" fill="#000" textLength="56.800000000000004" lengthAdjust="spacingAndGlyphs" xml:space="preserve">21 Nov 16:05</text>
</svg></body></html>
